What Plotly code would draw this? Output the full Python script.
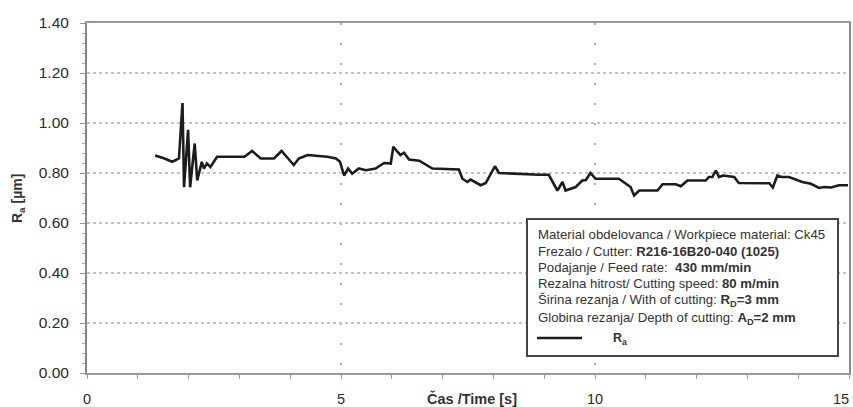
import plotly.graph_objects as go

# ---- data ----
time_s = [1.34, 1.50, 1.68, 1.81, 1.88, 1.91, 1.99, 2.03, 2.12, 2.17,
          2.26, 2.30, 2.36, 2.43, 2.56, 3.10, 3.25, 3.42, 3.68, 3.83,
          3.96, 4.07, 4.17, 4.34, 4.73, 4.90, 4.98, 5.06, 5.14, 5.22,
          5.35, 5.49, 5.68, 5.85, 5.98, 6.03, 6.11, 6.17, 6.24, 6.34,
          6.54, 6.80, 7.32, 7.39, 7.49, 7.55, 7.75, 7.85, 8.03, 8.11,
          8.90, 9.09, 9.26, 9.36, 9.42, 9.62, 9.75, 9.82, 9.91, 10.01,
          10.47, 10.70, 10.77, 10.87, 11.23, 11.33, 11.59, 11.69, 11.82, 12.18,
          12.24, 12.31, 12.38, 12.44, 12.52, 12.74, 12.83, 13.43, 13.50, 13.59,
          13.67, 13.82, 14.08, 14.25, 14.41, 14.52, 14.65, 14.80, 14.98]
ra_um = [0.87, 0.86, 0.845, 0.858, 1.08, 0.743, 0.973, 0.743, 0.918, 0.770,
         0.845, 0.818, 0.838, 0.824, 0.865, 0.865, 0.888, 0.858, 0.858, 0.888,
         0.858, 0.832, 0.858, 0.872, 0.865, 0.858, 0.845, 0.79, 0.818, 0.797,
         0.818, 0.811, 0.818, 0.84, 0.838, 0.905, 0.885, 0.872, 0.881, 0.854,
         0.849, 0.818, 0.814, 0.777, 0.764, 0.774, 0.751, 0.76, 0.827, 0.80,
         0.793, 0.793, 0.73, 0.764, 0.73, 0.744, 0.77, 0.772, 0.80, 0.777,
         0.777, 0.744, 0.71, 0.73, 0.73, 0.755, 0.755, 0.747, 0.77, 0.77,
         0.784, 0.784, 0.81, 0.784, 0.79, 0.784, 0.76, 0.759, 0.742, 0.79,
         0.784, 0.784, 0.764, 0.757, 0.74, 0.744, 0.742, 0.751, 0.751]

y_ticks = [0.0, 0.2, 0.4, 0.6, 0.8, 1.0, 1.2, 1.4]
y_tick_labels = ["0.00", "0.20", "0.40", "0.60", "0.80", "1.00", "1.20", "1.40"]
x_ticks = [0, 5, 10, 15]
x_tick_labels = ["0", "5", "10", "15\u00a0\u00a0\u00a0\u00a0"]

info_lines = [
    "Material obdelovanca / Workpiece material: Ck45",
    "Frezalo / Cutter: <b>R216-16B20-040 (1025)</b>",
    "Podajanje / Feed rate:  <b>430 mm/min</b>",
    "Rezalna hitrost/ Cutting speed: <b>80 m/min</b>",
    "Širina rezanja / With of cutting: <b>R<sub>D</sub>=3 mm</b>",
    "Globina rezanja/ Depth of cutting: <b>A<sub>D</sub>=2 mm</b>",
]
series_name = "<b>R<sub>a</sub></b>"

FONT = "Liberation Sans, Arial, sans-serif"
W, H = 853, 407
L, R, T, B = 87, 4, 23, 34
pw, ph = W - L - R, H - T - B

def px_x(p):
    return (p - L) / pw

def px_y(p):
    return (H - B - p) / ph

fig = go.Figure()
fig.add_trace(go.Scatter(
    x=time_s, y=ra_um, mode="lines", name=series_name, showlegend=False,
    line=dict(color="#1c1c1c", width=2.6),
))

fig.update_layout(
    width=W, height=H,
    margin=dict(l=L, r=R, t=T, b=B, autoexpand=False),
    paper_bgcolor="white", plot_bgcolor="white",
    font=dict(family=FONT, color="#333333"),
    showlegend=False,
    xaxis=dict(
        range=[0, 15], tickmode="array", tickvals=x_ticks, ticktext=x_tick_labels,
        tickfont=dict(size=14.5, color="#2a2a2a"),
        ticks="outside", ticklen=4, tickcolor="#999999",
        ticklabelstandoff=8,
        ticklabeloverflow="allow", automargin=False,
        minor=dict(dtick=1, ticks="outside", ticklen=4, tickcolor="#999999", showgrid=False),
        showline=True, linecolor="#999999", linewidth=2, mirror=True,
        zeroline=False,
        showgrid=True, gridcolor="#b0b0b0", gridwidth=2, griddash="2px,18px",
    ),
    yaxis=dict(
        range=[0, 1.4], tickmode="array", tickvals=y_ticks, ticktext=y_tick_labels,
        tickfont=dict(size=15.5, color="#2a2a2a"),
        ticks="outside", ticklen=5, tickcolor="#999999",
        ticklabelstandoff=8, automargin=False,
        minor=dict(dtick=0.04, tick0=0, ticks="outside", ticklen=3, tickcolor="#aaaaaa", showgrid=False),
        showline=True, linecolor="#888888", linewidth=2, mirror=True,
        zeroline=False,
        showgrid=True, gridcolor="#c4c4c4", gridwidth=1.5, griddash="dot",
    ),
)

# info box
fig.add_shape(type="rect", xref="paper", yref="paper",
              x0=px_x(527), x1=px_x(838), y0=px_y(356), y1=px_y(219),
              line=dict(color="#444444", width=2), fillcolor="white", layer="above")

line_y = [234, 251.5, 267.5, 283.5, 300.5, 318]
for txt, yy in zip(info_lines, line_y):
    fig.add_annotation(text=txt, xref="paper", yref="paper",
                       x=px_x(536), y=px_y(yy), xanchor="left", yanchor="middle",
                       showarrow=False, font=dict(size=13.2, color="#333333", family=FONT))

# legend entry inside the box
fig.add_shape(type="line", xref="paper", yref="paper",
              x0=px_x(537), x1=px_x(582), y0=px_y(338), y1=px_y(338),
              line=dict(color="#1c1c1c", width=2.6), layer="above")
fig.add_annotation(text=series_name, xref="paper", yref="paper",
                   x=px_x(611), y=px_y(339), xanchor="left", yanchor="middle",
                   showarrow=False, font=dict(size=12.5, color="#333333", family=FONT))

# axis titles
fig.add_annotation(text="<b>Čas /Time [s]</b>", xref="paper", yref="paper",
                   x=px_x(472), y=px_y(398), xanchor="center", yanchor="middle",
                   showarrow=False, font=dict(size=14.5, color="#333333", family=FONT))
fig.add_annotation(text="<b>R<sub>a</sub> [µm]</b>", xref="paper", yref="paper",
                   x=px_x(18), y=px_y(199), xanchor="center", yanchor="middle",
                   textangle=-90, showarrow=False,
                   font=dict(size=14, color="#333333", family=FONT))

fig.write_html("out.html")
